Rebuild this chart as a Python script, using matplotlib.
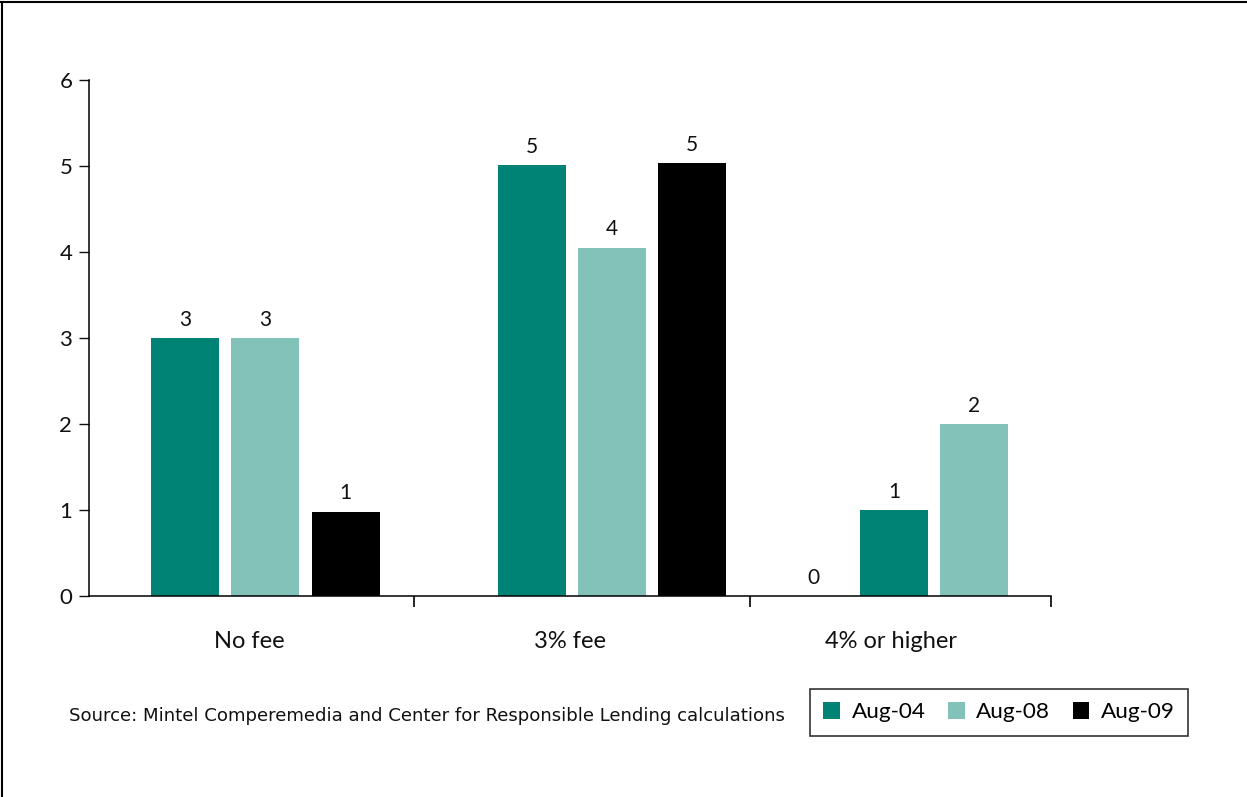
import numpy as np
import matplotlib.pyplot as plt
from matplotlib.lines import Line2D

categories = ["No fee", "3% fee", "4% or higher"]
series = ["Aug-04", "Aug-08", "Aug-09"]
aug04 = [3.0, 5.01, 0.0]
aug08 = [3.0, 4.05, 1.0]
aug09 = [0.98, 5.03, 2.0]
labels = [[3, 5, 0], [3, 4, 1], [1, 5, 2]]
source = "Source: Mintel Comperemedia and Center for Responsible Lending calculations"

colors = ["#008374", "#83c2b9", "#000000"]
plt.rcParams["font.family"] = ["Lato", "DejaVu Sans"]

fig = plt.figure(figsize=(12.47, 7.97), dpi=100)
ax = fig.add_axes([0.0714, 0.2522, 0.7714, 0.6474])

# group placement as drawn in the original (slightly uneven)
group_pos = np.array([0.05, 1.13, 2.01])
offset = 0.25
width = 0.212
vals = [aug04, aug08, aug09]

for i, name in enumerate(series):
    x = group_pos + (i - 1) * offset
    # the original draws the last group with colours shifted one slot
    cols = [colors[i], colors[i], colors[i - 1]]
    ax.bar(x, vals[i], width=width, color=cols, label=name)
    for xx, v, lab in zip(x, vals[i], labels[i]):
        ax.annotate(str(lab), (xx, v), xytext=(0, 6), textcoords="offset points",
                    ha="center", va="bottom", fontsize=15, color="#111111")

ax.set_xlim(-0.5, 2.5)
ax.set_ylim(0, 6)
ax.set_yticks(range(7))
ax.tick_params(axis="y", length=7, width=1, labelsize=16, pad=5, colors="#111111")
ax.set_xticks([0.513, 1.561, 2.5])
ax.set_xticklabels([])
ax.tick_params(axis="x", length=8, width=1.2, direction="out")
for s in ["top", "right"]:
    ax.spines[s].set_visible(False)
ax.spines["left"].set_linewidth(1.1)
ax.spines["bottom"].set_linewidth(1.1)

for k, c in enumerate(categories):
    ax.text(k, -0.089, c, transform=ax.get_xaxis_transform(), ha="center",
            va="center", fontsize=17, color="#111111")

fig.text(0.0553, 0.1016, source, fontsize=13.1, va="center", ha="left",
         family="DejaVu Sans", color="#111111")

leg = fig.legend(loc="center", bbox_to_anchor=(0.6496, 0.074, 0.303, 0.065),
                 ncol=3, frameon=True, fancybox=False, fontsize=16.2,
                 handlelength=0.75, handleheight=0.75, handletextpad=0.5,
                 columnspacing=1.0, borderpad=0.6)
leg.get_frame().set_edgecolor("black")
leg.get_frame().set_linewidth(1.2)

# partial frame around the figure (left and top edges)
fig.add_artist(Line2D([0.0015, 0.0015], [0, 0.998], transform=fig.transFigure,
                      color="black", lw=1.5))
fig.add_artist(Line2D([0, 1], [0.998, 0.998], transform=fig.transFigure,
                      color="black", lw=1.5))

fig.savefig("out.png", dpi=100)
